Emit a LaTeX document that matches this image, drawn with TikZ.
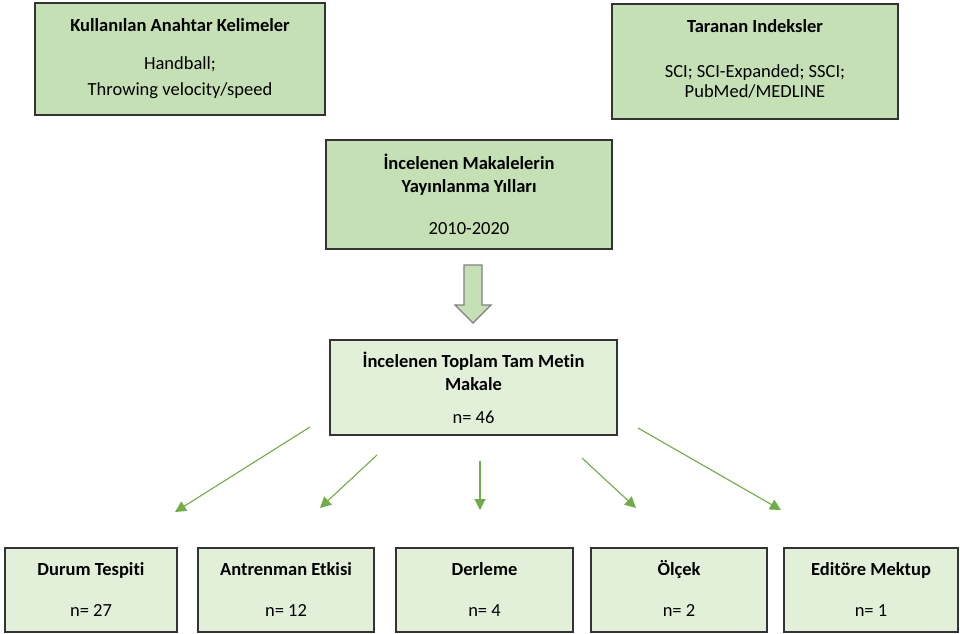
\documentclass[tikz,border=0pt]{standalone}
\usepackage{fontspec}
\setmainfont{Carlito}[Ligatures=NoCommon]
\usepackage{xcolor}
\usetikzlibrary{positioning,arrows.meta}
\definecolor{boxgreen}{HTML}{C5E0B4}
\definecolor{palegreen}{HTML}{E2F0D9}
\definecolor{arrowgreen}{HTML}{70AD47}

\begin{document}
\begin{tikzpicture}[x=1bp, y=-1bp, font=\fontsize{18.5bp}{23bp}\selectfont, >={Triangle[length=11bp,width=11bp]}]
  \tikzstyle{topbox}=[draw=black!80, line width=1.5bp, fill=boxgreen, align=center, inner sep=0pt]
  \tikzstyle{countbox}=[draw=black!80, line width=1.5bp, fill=palegreen, align=center, inner sep=0pt, minimum height=84bp]
  \tikzstyle{flow}=[->, draw=arrowgreen, fill=arrowgreen, line width=1.1bp]
  \useasboundingbox (0,0) rectangle (960,634);
  % upper boxes
  \node[topbox, minimum width=290bp, minimum height=112bp] (keys) at (180,59) {\textbf{Kullanılan Anahtar Kelimeler}\\[15bp] Handball;\\[3bp] Throwing velocity/speed};
  \node[topbox, minimum width=286bp, minimum height=115bp] (index) at (755,61.5) {\textbf{Taranan Indeksler}\\[22bp] SCI; SCI-Expanded; SSCI;\\[-3bp] PubMed/MEDLINE\\[-17bp]};
  \node[topbox, minimum width=286bp, minimum height=109bp] (years) at (469,194.5) {\textbf{İncelenen Makalelerin}\\ \textbf{Yayınlanma Yılları}\\[19bp] 2010-2020};
  % block arrow
  \draw[draw=black!50, fill=boxgreen, line width=1.2bp] (464,265) -- (482,265) -- (482,305) -- (491,305) -- (473,323) -- (455,305) -- (464,305) -- cycle;
  \node[countbox, minimum width=287bp, minimum height=95bp] (total) at (473.5,387.5) {\textbf{İncelenen Toplam Tam Metin}\\ \textbf{Makale}\\[10bp] n= 46};
  % lower boxes
  \node[countbox, minimum width=172bp] (durum) at (91,590) {\textbf{Durum Tespiti}\\[18bp] n= 27};
  \node[countbox, minimum width=176bp] (antren) at (286,590) {\textbf{Antrenman Etkisi}\\[18bp] n= 12};
  \node[countbox, minimum width=177bp] (derleme) at (484.5,590) {\textbf{Derleme}\\[18bp] n= 4};
  \node[countbox, minimum width=176bp] (olcek) at (679,590) {\textbf{\smash{Ö}lçek}\\[18bp] n= 2};
  \node[countbox, minimum width=174bp] (editor) at (871,590) {\textbf{Editöre Mektup}\\[18bp] n= 1};
  % arrow ends
  \coordinate (s1) at (310,427); \coordinate (e1) at (175,512);
  \coordinate (s2) at (377,455); \coordinate (e2) at (320,508);
  \coordinate (s3) at (480,461); \coordinate (e3) at (480,510);
  \coordinate (s4) at (582,458); \coordinate (e4) at (636,508);
  \coordinate (s5) at (638,428); \coordinate (e5) at (781,510);
  \draw[flow] (s1) -- (e1);
  \draw[flow] (s2) -- (e2);
  \draw[flow] (s3) -- (e3);
  \draw[flow] (s4) -- (e4);
  \draw[flow] (s5) -- (e5);
\end{tikzpicture}
\end{document}
